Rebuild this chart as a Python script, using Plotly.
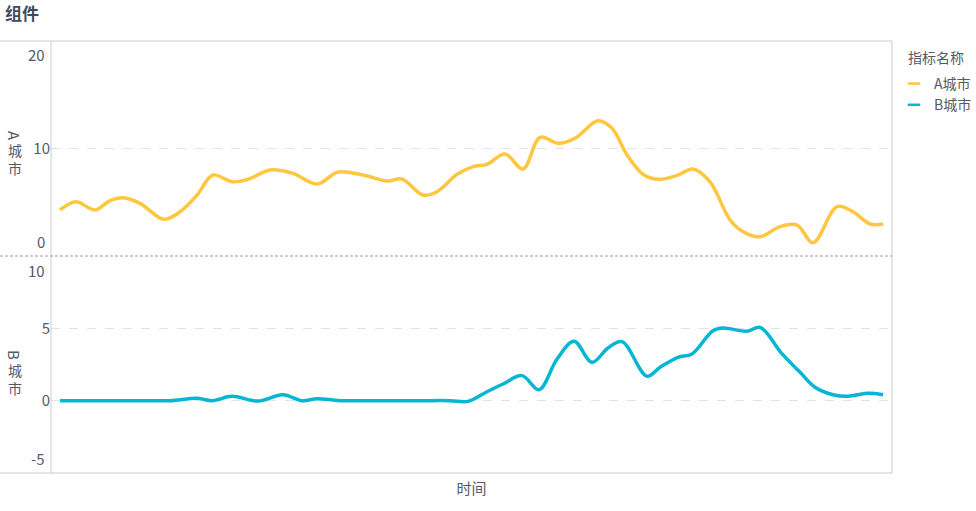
import plotly.graph_objects as go

# time position of each sample (shared time scale) and city values
a_time = [0, 0.91, 2.0, 2.86, 3.6, 4.57, 5.94, 6.86, 7.83, 8.74, 9.83, 10.74, 12.0,
          13.31, 14.69, 15.89, 17.31, 18.69, 19.54, 20.74, 21.54, 22.69, 23.6, 24.4,
          25.43, 26.46, 27.43, 28.46, 29.43, 30.74, 31.54, 32.4, 33.31, 34.17, 35.26,
          36.17, 37.14, 38.29, 39.03, 40.0, 41.14, 42.11, 43.03, 44.4, 45.31, 46.29, 47.03]
a_values = [4.28, 5.05, 4.28, 5.15, 5.42, 4.90, 3.41, 4.12, 5.67, 7.53, 6.91, 7.13, 8.0,
            7.69, 6.70, 7.81, 7.53, 6.98, 7.16, 5.67, 5.98, 7.6, 8.31, 8.53,
            9.49, 8.09, 11.04, 10.48, 10.95, 12.59, 11.88, 9.40, 7.6, 7.13, 7.5,
            8.09, 6.9, 3.35, 2.26, 1.80, 2.73, 2.88, 1.24, 4.59, 4.12, 2.98, 2.98]

b_time = [0, 2.29, 4.57, 6.29, 7.83, 8.69, 9.83, 11.31, 12.74, 13.83, 14.69, 16.0,
          18.29, 20.57, 22.29, 23.31, 24.4, 25.31, 26.4, 27.37, 28.4, 29.37, 30.4,
          31.31, 32.11, 33.54, 34.29, 35.31, 36.11, 37.31, 37.89, 39.26, 40.0, 41.26,
          42.29, 43.14, 44.17, 45.03, 46.11, 47.03]
b_values = [0, 0, 0, 0, 0.17, 0, 0.3, -0.03, 0.41, 0, 0.14, 0,
            0, 0, 0, -0.05, 0.62, 1.15, 1.73, 0.76, 2.88, 4.1, 2.65,
            3.64, 4.08, 1.69, 2.31, 3.0, 3.23, 4.84, 5.02, 4.8, 5.07, 3.23,
            1.96, 0.93, 0.41, 0.3, 0.51, 0.41]

A_COLOR = "#FFC63F"
B_COLOR = "#06B6D4"
TEXT = "#545b66"
FONT = "Noto Sans CJK SC, Noto Sans, sans-serif"

fig = go.Figure()
fig.add_trace(go.Scatter(
    x=a_time, y=a_values, name="A城市", mode="lines", yaxis="y", showlegend=False,
    line=dict(color=A_COLOR, width=3.5, shape="spline", smoothing=1),
))
fig.add_trace(go.Scatter(
    x=b_time, y=b_values, name="B城市", mode="lines", yaxis="y2", showlegend=False,
    line=dict(color=B_COLOR, width=3.5, shape="spline", smoothing=1),
))
# legend entries with a short dash symbol
for name, color in [("A城市", A_COLOR), ("B城市", B_COLOR)]:
    fig.add_trace(go.Scatter(
        x=[None], y=[None], name=name, mode="markers", yaxis="y",
        marker=dict(symbol="line-ew", size=9, line=dict(color=color, width=2.5)),
    ))

split = 217 / 432  # boundary between the two panels (paper coords)
left_edge = -51 / 841

axis_common = dict(
    showgrid=True, gridcolor="#e3e3e3", griddash="dash", gridwidth=1,
    zeroline=False, showline=False, ticks="",
    tickfont=dict(size=15, color=TEXT),
)

shapes = [
    dict(type="line", xref="paper", yref="paper", x0=left_edge, x1=1, y0=1, y1=1,
         line=dict(color="#cccccc", width=1)),
    dict(type="line", xref="paper", yref="paper", x0=left_edge, x1=1, y0=0, y1=0,
         line=dict(color="#cccccc", width=1)),
    dict(type="line", xref="paper", yref="paper", x0=1, x1=1, y0=0, y1=1,
         line=dict(color="#cccccc", width=1)),
    dict(type="line", xref="paper", yref="paper", x0=0, x1=0, y0=0, y1=1,
         line=dict(color="#cccccc", width=1)),
    dict(type="line", xref="paper", yref="paper", x0=left_edge, x1=1, y0=split, y1=split,
         line=dict(color="#9a9a9a", width=1, dash="3px,2px")),
]

def paper_y(py):
    return (473 - py) / 432

def paper_x(px):
    return (px - 51) / 841

annotations = []
# end tick labels, pulled inside the panels
for txt, yref, yval, shift in [("20", "y", 20, -13), ("0", "y", 0, 15),
                               ("10", "y2", 10, -14), ("-5", "y2", -5, 15)]:
    annotations.append(dict(
        text=txt, xref="paper", x=0, xshift=-4, xanchor="right",
        yref=yref, y=yval, yshift=shift, yanchor="middle", showarrow=False,
        font=dict(size=15, color=TEXT, family=FONT),
    ))

# vertical axis names (latin letter turned, CJK upright)
name_x = paper_x(15)
for letter, y_letter, y_cjk in [("A", 136, 159), ("B", 355, 379)]:
    annotations.append(dict(text=letter, textangle=90, xref="paper", x=name_x,
                            xanchor="center", yref="paper", y=paper_y(y_letter),
                            yanchor="middle", showarrow=False,
                            font=dict(size=15, color=TEXT, family=FONT)))
    annotations.append(dict(text="城<br>市", xref="paper", x=name_x, xanchor="center",
                            yref="paper", y=paper_y(y_cjk), yanchor="middle",
                            showarrow=False,
                            font=dict(size=14, color=TEXT, family=FONT)))

# legend heading
annotations.append(dict(text="指标名称", xref="paper", x=paper_x(906), xanchor="left",
                        yref="paper", y=paper_y(57), yanchor="middle", showarrow=False,
                        font=dict(size=14, color=TEXT, family=FONT)))

fig.update_layout(
    width=976, height=511,
    margin=dict(l=51, r=84, t=41, b=38, autoexpand=False),
    paper_bgcolor="white", plot_bgcolor="white",
    font=dict(family=FONT, color=TEXT, size=15),
    title=dict(text="<b>组件</b>", xref="container", x=5 / 976, xanchor="left",
               yref="container", y=1 - 14 / 511, yanchor="middle",
               font=dict(size=17, color="#3f4a5a")),
    xaxis=dict(range=[-0.514, 47.54], showticklabels=False, showgrid=False,
               zeroline=False, showline=False, ticks="", anchor="y2",
               title=dict(text="时间", font=dict(size=15, color=TEXT), standoff=10)),
    yaxis=dict(domain=[split, 1], range=[0, 20], tickvals=[10], **axis_common),
    yaxis2=dict(domain=[0, split], range=[-5, 10], tickvals=[0, 5], **axis_common),
    legend=dict(x=paper_x(894), xanchor="left", y=paper_y(68), yanchor="top",
                bgcolor="rgba(0,0,0,0)",
                font=dict(size=14, color=TEXT), itemwidth=30, tracegroupgap=2),
    shapes=shapes,
    annotations=annotations,
)

fig.write_html("out.html", post_script="document.body.style.margin='0';",
               config={"displayModeBar": False})
